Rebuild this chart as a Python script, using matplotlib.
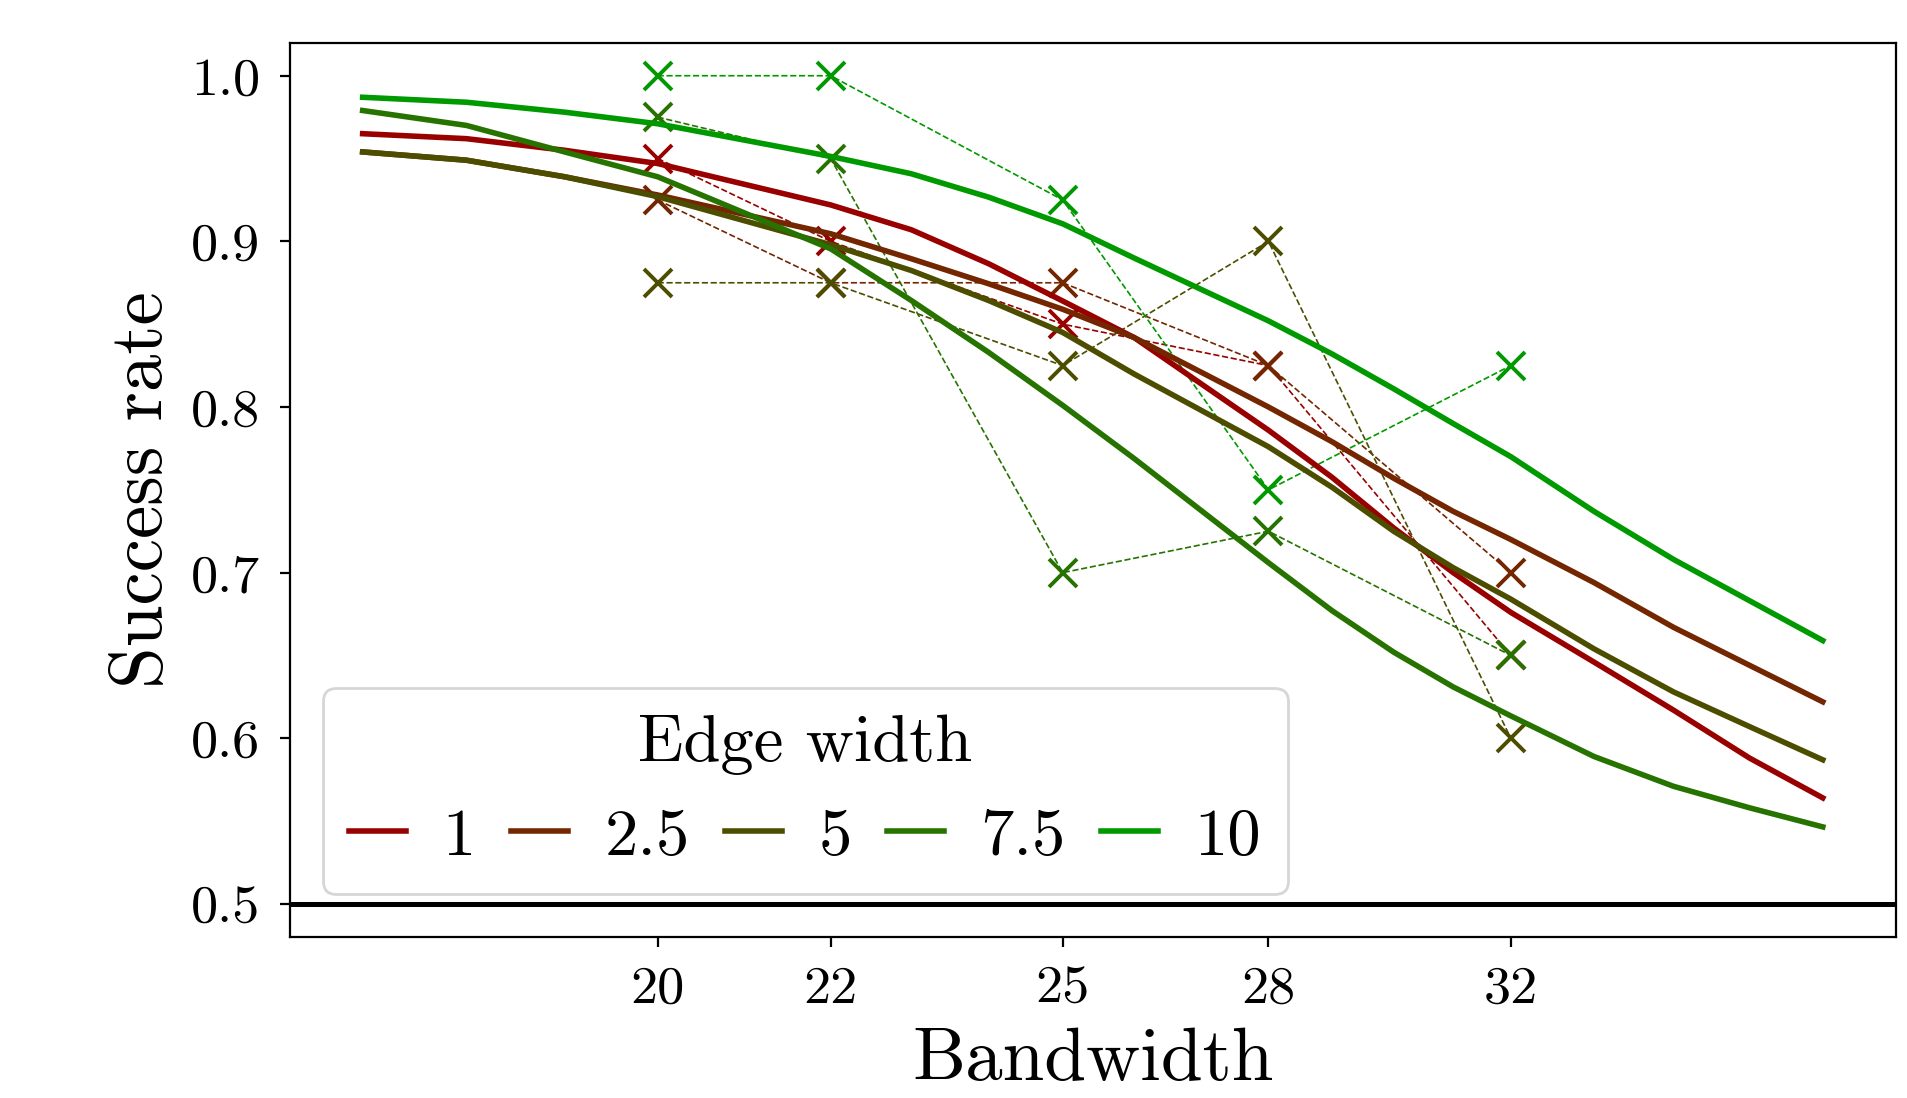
import matplotlib
matplotlib.use('Agg')
import matplotlib.pyplot as plt
from matplotlib.ticker import FixedLocator, NullLocator, FixedFormatter

plt.rcParams['font.family'] = 'serif'
plt.rcParams['font.serif'] = ['cmr10']
plt.rcParams['mathtext.fontset'] = 'cm'
plt.rcParams['axes.formatter.use_mathtext'] = True

# measured success rates
bandwidths = [20, 22, 25, 28, 32]
edge_widths = ['1', '2.5', '5', '7.5', '10']
rate_1 = [0.95, 0.90, 0.85, 0.825, 0.65]
rate_2_5 = [0.925, 0.875, 0.875, 0.825, 0.70]
rate_5 = [0.875, 0.875, 0.825, 0.90, 0.60]
rate_7_5 = [0.975, 0.95, 0.70, 0.725, 0.65]
rate_10 = [1.0, 1.0, 0.925, 0.75, 0.825]

# fitted curves
fit_x = [17, 18, 19, 20, 22, 23, 24, 25, 26, 28, 29, 30, 31, 32, 33.5, 35, 36.5, 38]
fit_1 = [0.965, 0.962, 0.955, 0.947, 0.922, 0.907, 0.8865, 0.864, 0.842, 0.786,
         0.7575, 0.727, 0.700, 0.676, 0.646, 0.617, 0.588, 0.564]
fit_2_5 = [0.954, 0.949, 0.939, 0.928, 0.9046, 0.8895, 0.8744, 0.859, 0.842, 0.800,
           0.779, 0.757, 0.737, 0.720, 0.694, 0.667, 0.644, 0.622]
fit_5 = [0.954, 0.949, 0.939, 0.927, 0.898, 0.8824, 0.8643, 0.845, 0.820, 0.776,
         0.7515, 0.725, 0.703, 0.684, 0.654, 0.628, 0.607, 0.587]
fit_7_5 = [0.979, 0.970, 0.954, 0.939, 0.8955, 0.8643, 0.833, 0.801, 0.769, 0.706,
           0.677, 0.652, 0.631, 0.6135, 0.589, 0.571, 0.558, 0.5465]
fit_10 = [0.987, 0.984, 0.978, 0.971, 0.9513, 0.9408, 0.9267, 0.9106, 0.890, 0.852,
          0.832, 0.811, 0.790, 0.770, 0.737, 0.708, 0.683, 0.659]

rates = [rate_1, rate_2_5, rate_5, rate_7_5, rate_10]
fits = [fit_1, fit_2_5, fit_5, fit_7_5, fit_10]

# red -> green colour ramp
colors = []
for i in range(5):
    t = i / 4
    colors.append((0.6 * (1 - t), 0.6 * t, 0.0))

fig = plt.figure(figsize=(9.54, 5.49), dpi=200)
ax = fig.add_axes([0.1518, 0.1466, 0.9936 - 0.1518, 0.9612 - 0.1466])

for r, c in zip(rates, colors):
    ax.plot(bandwidths, r, color=c, linestyle='--', linewidth=0.6,
            marker='x', markersize=10, markeredgewidth=1.4)

handles = []
for f, c, lab in zip(fits, colors, edge_widths):
    h, = ax.plot(fit_x, f, color=c, linewidth=2.0, label=lab)
    handles.append(h)

ax.axhline(0.5, color='black', linewidth=1.8)

ax.set_xscale('log')
ax.xaxis.set_major_locator(FixedLocator(bandwidths))
ax.xaxis.set_major_formatter(FixedFormatter([str(b) for b in bandwidths]))
ax.xaxis.set_minor_locator(NullLocator())
ax.set_ylim(0.48, 1.02)
ax.set_yticks([0.5, 0.6, 0.7, 0.8, 0.9, 1.0])
ax.set_yticklabels(['0.5', '0.6', '0.7', '0.8', '0.9', '1.0'])
ax.tick_params(labelsize=19.5, pad=7)

ax.set_xlabel('Bandwidth', fontsize=27, labelpad=5)
ax.set_ylabel('Success rate', fontsize=27, labelpad=5)

leg = ax.legend(handles=handles, title='Edge width', ncol=5, loc='lower left',
                bbox_to_anchor=(0.0205, 0.0476), borderaxespad=0,
                fontsize=24, title_fontsize=24,
                handlelength=0.85, handletextpad=0.55, columnspacing=0.53,
                borderpad=0.4)

fig.savefig('out.png', dpi=200)
